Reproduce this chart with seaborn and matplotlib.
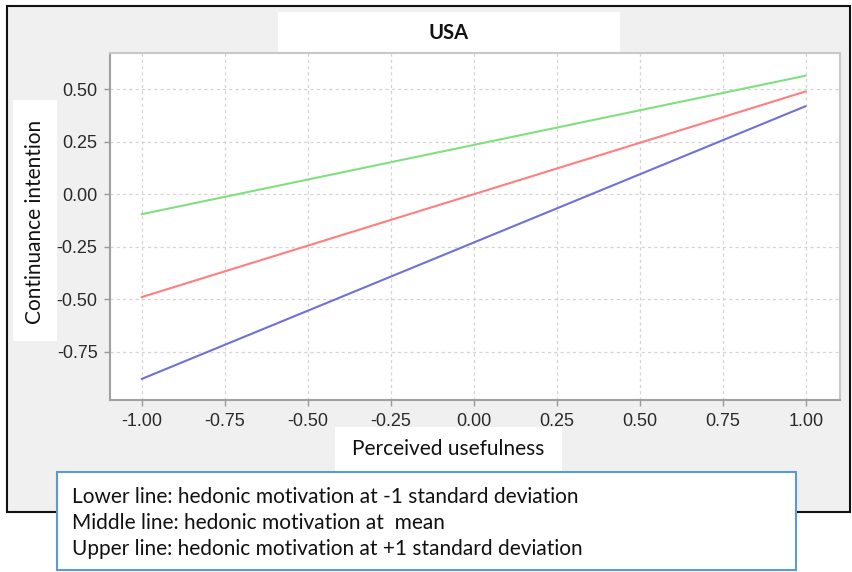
import matplotlib
matplotlib.use("Agg")
import matplotlib.pyplot as plt
from matplotlib.patches import Rectangle
import pandas as pd
import seaborn as sns

W, H = 852, 572

# values
perceived_usefulness = [-1.0, 1.0]
low_hedonic = [-0.88, 0.42]      # -1 SD
mean_hedonic = [-0.49, 0.49]     # mean
high_hedonic = [-0.095, 0.565]   # +1 SD
levels = ["-1 SD", "mean", "+1 SD"]
line_colors = ["#7070d8", "#ff7f7f", "#80e080"]

x_ticks = [-1.0, -0.75, -0.5, -0.25, 0.0, 0.25, 0.5, 0.75, 1.0]
y_ticks = [-0.75, -0.5, -0.25, 0.0, 0.25, 0.5]

title = "USA"
x_label = "Perceived usefulness"
y_label = "Continuance intention"
note_lines = [
    "Lower line: hedonic motivation at -1 standard deviation",
    "Middle line: hedonic motivation at  mean",
    "Upper line: hedonic motivation at +1 standard deviation",
]

df = pd.DataFrame({
    "x": perceived_usefulness * 3,
    "y": low_hedonic + mean_hedonic + high_hedonic,
    "level": [lv for lv in levels for _ in perceived_usefulness],
})

sns.set_style("white")
plt.rcParams["font.family"] = ["Lato", "DejaVu Sans"]

fig = plt.figure(figsize=(W / 100, H / 100), dpi=100)
fig.patch.set_facecolor("white")


def box(x, y, w, h, **kw):
    # pixel box (top-left origin) -> figure fraction rectangle
    return Rectangle((x / W, 1 - (y + h) / H), w / W, h / H,
                     transform=fig.transFigure, **kw)


# grey panel with black frame
fig.add_artist(box(7, 6, 843, 506, facecolor="#f0f0f0", edgecolor="#111111",
                   lw=1.5, zorder=-2))
# white label boxes
fig.add_artist(box(278, 12, 342, 41, facecolor="white", edgecolor="none", zorder=-1))
fig.add_artist(box(13, 100, 44, 241, facecolor="white", edgecolor="none", zorder=-1))
fig.add_artist(box(335, 427, 227, 46, facecolor="white", edgecolor="none", zorder=-1))
# note box
fig.add_artist(box(57, 472, 739, 98, facecolor="white", edgecolor="#5b9bd5",
                   lw=1.5, zorder=5))

ax = fig.add_axes([110 / W, 1 - 400 / H, 730 / W, 347 / H])
sns.lineplot(data=df, x="x", y="y", hue="level", palette=line_colors,
             hue_order=levels, lw=1.5, legend=False, ax=ax)

ax.set_xlim(-1.095, 1.103)
ax.set_ylim(-0.98, 0.673)
ax.set_xticks(x_ticks)
ax.set_yticks(y_ticks)
ax.set_xticklabels([f"{v:.2f}" for v in x_ticks])
ax.set_yticklabels([f"{v:.2f}" for v in y_ticks])
ax.tick_params(axis="both", direction="out", length=4, width=1, color="#999999",
               labelsize=13, labelcolor="#2a2a2a", pad=5,
               left=True, bottom=True)
for lab in ax.get_xticklabels() + ax.get_yticklabels():
    lab.set_family(["Liberation Sans", "DejaVu Sans"])
ax.grid(True, color="#d4d4d4", lw=0.9, ls=(0, (2.5, 2.5)))
ax.set_xlabel("")
ax.set_ylabel("")
for side, spine in ax.spines.items():
    spine.set_visible(True)
    spine.set_color("#a0a0a0" if side in ("left", "bottom") else "#c8c8c8")
    spine.set_linewidth(1.5)

fig.text(449 / W, 1 - 33 / H, title, ha="center", va="center",
         fontsize=14.5, fontweight="bold", color="#111111")
fig.text(448 / W, 1 - 449 / H, x_label, ha="center", va="center",
         fontsize=15, color="#111111")
fig.text(35 / W, 1 - 222 / H, y_label, ha="center", va="center",
         rotation=90, fontsize=15, color="#111111")
for i, line in enumerate(note_lines):
    fig.text(72 / W, 1 - (497 + 26 * i) / H, line, ha="left", va="center",
             fontsize=15, color="#111111", zorder=6)

fig.savefig("out.png", dpi=100)
